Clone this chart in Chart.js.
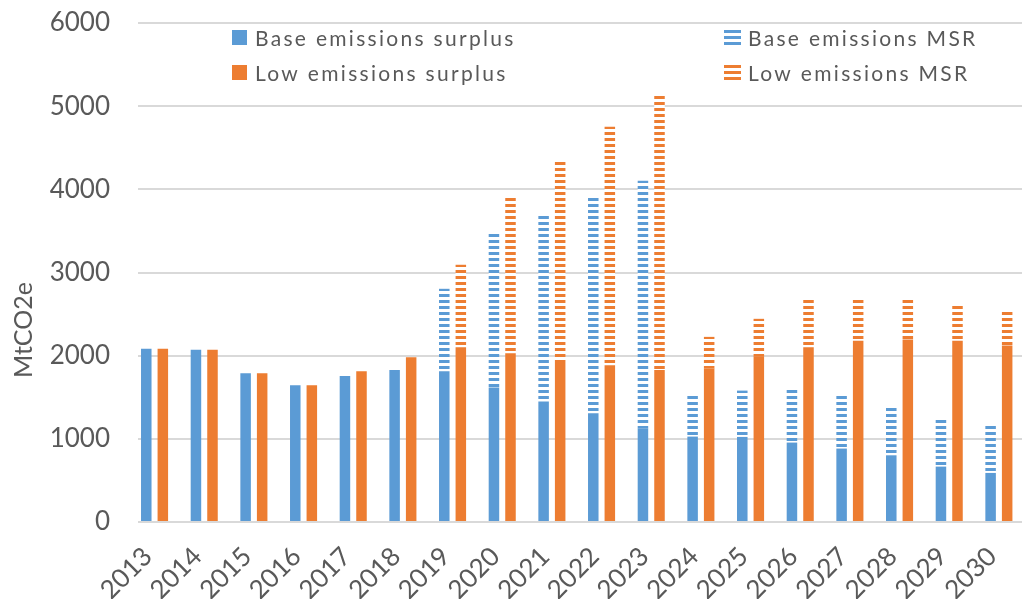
<!DOCTYPE html>
<html>
<head>
<meta charset="utf-8">
<script src="https://cdn.jsdelivr.net/npm/chart.js@4/dist/chart.umd.min.js"></script>
<style>
  html, body { margin: 0; padding: 0; background: #fff; overflow: hidden; }
  #wrap { width: 1022px; height: 599px; overflow: hidden; }
</style>
</head>
<body>
<div id="wrap"><canvas id="chart" width="1032" height="599"></canvas></div>
<script>
const years = ['2013', '2014', '2015', '2016', '2017', '2018', '2019', '2020', '2021',
  '2022', '2023', '2024', '2025', '2026', '2027', '2028', '2029', '2030'];

const baseSurplus = [2082, 2070, 1789, 1645, 1757, 1829, 1813, 1617, 1448,
  1308, 1127, 1027, 1023, 955, 883, 802, 666, 590];
const baseMSR = [0, 0, 0, 0, 0, 0, 991, 1845, 2246,
  2603, 2976, 501, 557, 645, 645, 582, 577, 577];
const lowSurplus = [2082, 2070, 1789, 1645, 1813, 1982, 2102, 2030, 1949,
  1885, 1829, 1845, 1986, 2102, 2178, 2194, 2178, 2122];
const lowMSR = [0, 0, 0, 0, 0, 0, 991, 1873, 2379,
  2868, 3305, 381, 457, 578, 512, 496, 433, 417];

const yTicks = [0, 1000, 2000, 3000, 4000, 5000, 6000];

const BLUE = '#5B9BD5';
const ORANGE = '#ED7D31';
const TEXT = '#595959';
const FONT = 'Lato, "Noto Sans", sans-serif';

// horizontal stripe fill like Excel's "wide horizontal" pattern
function stripes(color) {
  const c = document.createElement('canvas');
  c.width = 6; c.height = 6;
  const g = c.getContext('2d');
  g.fillStyle = '#fff';
  g.fillRect(0, 0, 6, 6);
  g.fillStyle = color;
  g.fillRect(0, 0, 6, 3);
  return g.createPattern(c, 'repeat');
}

const ctx = document.getElementById('chart').getContext('2d');
const bluePattern = stripes(BLUE);
const orangePattern = stripes(ORANGE);

const legendItems = [
  { text: 'Base emissions surplus', color: BLUE, striped: false, x: 232, y: 30 },
  { text: 'Low emissions surplus', color: ORANGE, striped: false, x: 232, y: 65 },
  { text: 'Base emissions MSR', color: BLUE, striped: true, x: 724, y: 30 },
  { text: 'Low emissions MSR', color: ORANGE, striped: true, x: 724, y: 65 }
];

const customLegend = {
  id: 'customLegend',
  afterDraw(chart) {
    const c = chart.ctx;
    c.save();
    legendItems.forEach(it => {
      c.fillStyle = it.color;
      if (it.striped) {
        for (let k = 0; k < 3; k++) c.fillRect(it.x, it.y + k * 6, 17, 3);
      } else {
        c.fillRect(it.x, it.y, 15, 15);
      }
      c.fillStyle = TEXT;
      c.font = '21px ' + FONT;
      c.letterSpacing = '2.3px';
      c.textBaseline = 'alphabetic';
      c.textAlign = 'left';
      c.fillText(it.text, it.x + (it.striped ? 24 : 23), it.y + 16);
    });
    c.letterSpacing = '0px';
    // y axis title
    c.translate(24, 330);
    c.rotate(-Math.PI / 2);
    c.font = '25px ' + FONT;
    c.textAlign = 'center';
    c.textBaseline = 'middle';
    c.fillStyle = TEXT;
    c.fillText('MtCO2e', 0, 0);
    c.restore();
  }
};

new Chart(ctx, {
  type: 'bar',
  data: {
    labels: years,
    datasets: [
      { label: 'Base emissions surplus', data: baseSurplus, stack: 'base', backgroundColor: BLUE },
      { label: 'Base emissions MSR', data: baseMSR, stack: 'base', backgroundColor: bluePattern },
      { label: 'Low emissions surplus', data: lowSurplus, stack: 'low', backgroundColor: ORANGE },
      { label: 'Low emissions MSR', data: lowMSR, stack: 'low', backgroundColor: orangePattern },
      { label: '', data: [], stack: 'gap' } // empty slot, keeps the pair left of centre
    ]
  },
  options: {
    responsive: false,
    animation: false,
    categoryPercentage: 1,
    barPercentage: 0.635,
    layout: { padding: { top: 23, left: 0, right: 0, bottom: 0 } },
    plugins: {
      legend: { display: false },
      tooltip: { enabled: false }
    },
    scales: {
      x: {
        stacked: true,
        grid: { display: false },
        border: { display: false },
        ticks: {
          color: TEXT,
          font: { family: FONT, size: 26 },
          minRotation: 45,
          maxRotation: 45,
          autoSkip: false,
          padding: 11,
          labelOffset: -15
        },
        afterFit(scale) {
          scale.height = 77;
          scale.paddingLeft = 0;
          scale.paddingRight = 0;
        }
      },
      y: {
        stacked: true,
        min: 0,
        max: 6000,
        afterBuildTicks(scale) { scale.ticks = yTicks.map(v => ({ value: v })); },
        grid: { color: '#D9D9D9', lineWidth: 2, drawTicks: false },
        border: { display: false },
        ticks: {
          color: TEXT,
          font: { family: FONT, size: 26 },
          padding: 28,
          callback: v => String(v)
        },
        afterFit(scale) {
          scale.width = 138;
          scale.paddingTop = 0;
          scale.paddingBottom = 0;
        }
      }
    }
  },
  plugins: [customLegend]
});
</script>
</body>
</html>
